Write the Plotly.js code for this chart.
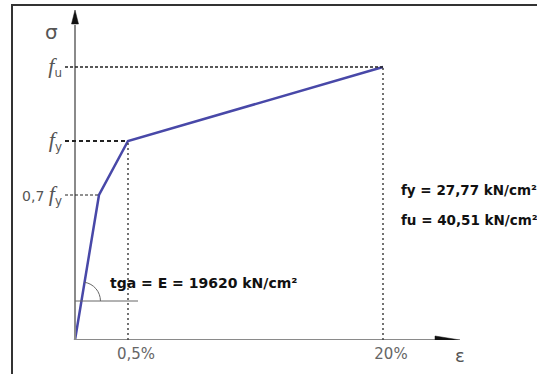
<!DOCTYPE html>
<html>
<head>
<meta charset="utf-8">
<script src="https://cdn.plot.ly/plotly-3.0.1.min.js"></script>
<style>html,body{margin:0;padding:0;background:#fff;}#chart{width:537px;height:374px;}</style>
</head>
<body>
<div id="chart"></div>
<script>
// Schematic stress-strain diagram (positions, schematic units)
const curveStrain = [0, 24, 53, 308];      // origin, 0.7fy point, yield point, ultimate point
const curveStress = [0, 145, 199, 273];
const strainTickLabels = ['0,5%', '20%'];
const stressTickLabels = [
  '<span style="font-size:14px">0,7 </span><span style="font-family:\'Liberation Serif\';font-size:22px"><i>f</i></span><sub>y</sub>',
  '<span style="font-family:\'Liberation Serif\';font-size:22px"><i>f</i></span><sub>y</sub>',
  '<span style="font-family:\'Liberation Serif\';font-size:22px"><i>f</i></span><sub>u</sub>'
];
const noteTexts = ['tga = E = 19620 kN/cm²', 'fy = 27,77 kN/cm²', 'fu = 40,51 kN/cm²'];

// layout geometry (pixels)
const W = 537, H = 374;
const plotL = 63, plotR = 460, plotT = 10, plotB = 340;
const xRange = [-12, 385], yRange = [0, 330];
const px = x => (x - plotL) / (plotR - plotL);
const py = y => (plotB - y) / (plotB - plotT);

const axisGray = '#8a8a8a';
const dashColor = '#222';

// angle marker
const angRefY = 39, angRefEnd = 63, angR = 19;
const slope = (curveStress[1] - curveStress[0]) / (curveStrain[1] - curveStrain[0]);
const cx = curveStrain[0] + angRefY / slope, cy = angRefY;
const th = Math.atan(slope);
const k = 4 / 3 * Math.tan(th / 4) * angR;
const P0 = [cx + angR, cy], P1 = [cx + angR, cy + k];
const P3 = [cx + angR * Math.cos(th), cy + angR * Math.sin(th)];
const P2 = [P3[0] + k * Math.sin(th), P3[1] - k * Math.cos(th)];
const arcPath = `M${P0[0]},${P0[1]} C${P1[0]},${P1[1]} ${P2[0]},${P2[1]} ${P3[0]},${P3[1]}`;

const shapes = [
  // frame
  {type:'rect', xref:'paper', yref:'paper', x0:px(12), x1:px(620), y0:py(420), y1:py(5),
   line:{color:'#333', width:2}, fillcolor:'rgba(0,0,0,0)', layer:'below'},
  // axes
  {type:'line', xref:'x', yref:'y', x0:0, x1:370, y0:0, y1:0, line:{color:axisGray, width:2}},
  {type:'line', xref:'x', yref:'y', x0:0, x1:0, y0:0, y1:315, line:{color:axisGray, width:2}},
  // arrowheads
  {type:'path', xref:'x', yref:'y', path:'M360,-4 L385,0 L360,4 Z', fillcolor:'#111', line:{color:'#111', width:0.5}},
  {type:'path', xref:'x', yref:'y', path:'M-3.5,316 L0,330 L3.5,316 Z', fillcolor:'#111', line:{color:'#111', width:0.5}},
  // guide lines
  {type:'line', xref:'x', yref:'y', x0:-10, x1:curveStrain[3], y0:curveStress[3], y1:curveStress[3], line:{color:dashColor, width:1.5, dash:'3px,2px'}},
  {type:'line', xref:'x', yref:'y', x0:-10, x1:curveStrain[2], y0:curveStress[2], y1:curveStress[2], line:{color:dashColor, width:2, dash:'4px,3px'}},
  {type:'line', xref:'x', yref:'y', x0:-10, x1:curveStrain[1], y0:curveStress[1], y1:curveStress[1], line:{color:dashColor, width:1, dash:'3px,2px'}},
  {type:'line', xref:'x', yref:'y', x0:curveStrain[2], x1:curveStrain[2], y0:0, y1:curveStress[2], line:{color:'#444', width:1.5, dash:'2px,3px'}},
  {type:'line', xref:'x', yref:'y', x0:curveStrain[3], x1:curveStrain[3], y0:0, y1:curveStress[3], line:{color:'#444', width:1.5, dash:'2px,3px'}},
  // angle marker
  {type:'line', xref:'x', yref:'y', x0:0, x1:angRefEnd, y0:angRefY, y1:angRefY, line:{color:'#666', width:1}},
  {type:'path', xref:'x', yref:'y', path:arcPath, line:{color:'#666', width:1}}
];

const annotations = [
  {xref:'paper', yref:'paper', x:px(51), y:py(32), text:'σ', showarrow:false,
   font:{family:'DejaVu Sans', size:20, color:'#555'}, xanchor:'center', yanchor:'middle'},
  {xref:'paper', yref:'paper', x:px(460), y:py(355), text:'ε', showarrow:false,
   font:{family:'DejaVu Sans', size:18, color:'#555'}, xanchor:'center', yanchor:'middle'},
  {xref:'x', yref:'y', x:33, y:plotB - 283, text:'<b>' + noteTexts[0] + '</b>', showarrow:false,
   font:{family:'DejaVu Sans', size:14, color:'#111'}, xanchor:'left', yanchor:'middle'},
  {xref:'x', yref:'y', x:324, y:plotB - 190, text:'<b>' + noteTexts[1] + '</b>', showarrow:false,
   font:{family:'DejaVu Sans', size:13.5, color:'#111'}, xanchor:'left', yanchor:'middle'},
  {xref:'x', yref:'y', x:324, y:plotB - 220, text:'<b>' + noteTexts[2] + '</b>', showarrow:false,
   font:{family:'DejaVu Sans', size:13.5, color:'#111'}, xanchor:'left', yanchor:'middle'}
];

const trace = {
  x: curveStrain, y: curveStress, type:'scatter', mode:'lines',
  line:{color:'#4848a8', width:2.5}, hoverinfo:'skip', cliponaxis:false
};

const layout = {
  width: W, height: H,
  margin:{l:plotL, r:W - plotR, t:plotT, b:H - plotB, pad:0},
  paper_bgcolor:'#fff', plot_bgcolor:'rgba(0,0,0,0)',
  showlegend:false,
  xaxis:{range:xRange, showgrid:false, zeroline:false, showline:false, ticks:'',
    tickvals:[curveStrain[2], curveStrain[3]], ticktext:strainTickLabels,
    ticklabelshift:8, ticklabelstandoff:3,
    tickfont:{family:'DejaVu Sans', size:15, color:'#666'}, fixedrange:true},
  yaxis:{range:yRange, showgrid:false, zeroline:false, showline:false, ticks:'',
    tickvals:[curveStress[1], curveStress[2], curveStress[3]], ticktext:stressTickLabels,
    tickfont:{family:'DejaVu Sans', size:17, color:'#555'}, fixedrange:true},
  shapes: shapes,
  annotations: annotations
};

Plotly.newPlot('chart', [trace], layout, {displayModeBar:false, staticPlot:true});
</script>
</body>
</html>
